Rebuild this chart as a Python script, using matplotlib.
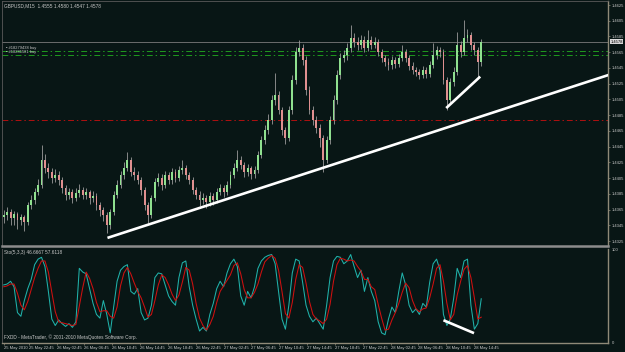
import numpy as np
import matplotlib
matplotlib.use('Agg')
import matplotlib.pyplot as plt
import matplotlib.transforms as mtransforms

plt.rcParams['font.family'] = ['Liberation Sans', 'DejaVu Sans']

# GBPUSD candles (one bar every ~3.4 px)
first_open = 1.4355
closes = [
    1.4358, 1.4362, 1.4354, 1.4359, 1.4352, 1.4355, 1.4349, 1.4371, 1.4377, 1.4387,
    1.4396, 1.4428, 1.4418, 1.4413, 1.4405, 1.4409, 1.4403, 1.4392, 1.4384, 1.4387,
    1.4380, 1.4386, 1.4390, 1.4384, 1.4387, 1.4380, 1.4382, 1.4371, 1.4364, 1.4358,
    1.4345, 1.4362, 1.4384, 1.4396, 1.4409, 1.4418, 1.4428, 1.4413, 1.4409, 1.4403,
    1.4390, 1.4371, 1.4358, 1.4380, 1.4400, 1.4405, 1.4396, 1.4409, 1.4403, 1.4413,
    1.4405, 1.4415, 1.4418, 1.4409, 1.4403, 1.4390, 1.4384, 1.4377, 1.4380, 1.4375,
    1.4382, 1.4377, 1.4387, 1.4392, 1.4387, 1.4396, 1.4409, 1.4418, 1.4428, 1.4422,
    1.4413, 1.4418, 1.4410, 1.4415, 1.4434, 1.4453, 1.4466, 1.4479, 1.4504, 1.4511,
    1.4492, 1.4466, 1.4456, 1.4492, 1.4530, 1.4565, 1.4570, 1.4555, 1.4517, 1.4492,
    1.4479, 1.4469, 1.4456, 1.4428, 1.4453, 1.4479, 1.4504, 1.4536, 1.4558, 1.4561,
    1.4570, 1.4583, 1.4578, 1.4574, 1.4581, 1.4570, 1.4581, 1.4574, 1.4578, 1.4565,
    1.4558, 1.4553, 1.4549, 1.4555, 1.4550, 1.4558, 1.4565, 1.4558, 1.4548, 1.4542,
    1.4540, 1.4536, 1.4542, 1.4537, 1.4549, 1.4561, 1.4568, 1.4565, 1.4530, 1.4504,
    1.4527, 1.4540, 1.4574, 1.4565, 1.4583, 1.4587, 1.4574, 1.4568, 1.4553, 1.4578,
]
highs = [
    1.4364, 1.4368, 1.4366, 1.4363, 1.4362, 1.4360, 1.4358, 1.4375, 1.4383, 1.4392,
    1.4404, 1.4447, 1.4435, 1.4424, 1.4418, 1.4416, 1.4414, 1.4407, 1.4396, 1.4393,
    1.4391, 1.4392, 1.4397, 1.4394, 1.4393, 1.4390, 1.4388, 1.4386, 1.4375, 1.4368,
    1.4362, 1.4366, 1.4389, 1.4402, 1.4414, 1.4425, 1.4438, 1.4432, 1.4419, 1.4414,
    1.4407, 1.4394, 1.4375, 1.4384, 1.4405, 1.4412, 1.4410, 1.4414, 1.4413, 1.4418,
    1.4417, 1.4420, 1.4428, 1.4422, 1.4413, 1.4406, 1.4394, 1.4388, 1.4386, 1.4384,
    1.4387, 1.4386, 1.4392, 1.4398, 1.4396, 1.4401, 1.4414, 1.4424, 1.4441, 1.4433,
    1.4426, 1.4423, 1.4421, 1.4420, 1.4440, 1.4459, 1.4472, 1.4486, 1.4510, 1.4539,
    1.4516, 1.4496, 1.4470, 1.4497, 1.4536, 1.4572, 1.4581, 1.4575, 1.4560, 1.4522,
    1.4497, 1.4484, 1.4474, 1.4460, 1.4458, 1.4484, 1.4510, 1.4542, 1.4564, 1.4568,
    1.4577, 1.4600, 1.4590, 1.4584, 1.4587, 1.4585, 1.4593, 1.4586, 1.4584, 1.4582,
    1.4569, 1.4562, 1.4558, 1.4560, 1.4559, 1.4563, 1.4574, 1.4569, 1.4562, 1.4552,
    1.4546, 1.4544, 1.4547, 1.4546, 1.4554, 1.4577, 1.4573, 1.4571, 1.4569, 1.4534,
    1.4532, 1.4546, 1.4591, 1.4579, 1.4606, 1.4595, 1.4591, 1.4578, 1.4572, 1.4582,
]
lows = [
    1.4348, 1.4352, 1.4346, 1.4345, 1.4340, 1.4346, 1.4338, 1.4345, 1.4366, 1.4372,
    1.4383, 1.4392, 1.4412, 1.4405, 1.4399, 1.4400, 1.4396, 1.4386, 1.4377, 1.4378,
    1.4373, 1.4376, 1.4381, 1.4378, 1.4379, 1.4372, 1.4375, 1.4365, 1.4357, 1.4350,
    1.4335, 1.4340, 1.4358, 1.4380, 1.4392, 1.4404, 1.4414, 1.4408, 1.4403, 1.4397,
    1.4384, 1.4364, 1.4348, 1.4354, 1.4376, 1.4395, 1.4390, 1.4392, 1.4397, 1.4398,
    1.4400, 1.4401, 1.4410, 1.4404, 1.4397, 1.4385, 1.4378, 1.4370, 1.4372, 1.4367,
    1.4370, 1.4371, 1.4373, 1.4383, 1.4381, 1.4383, 1.4392, 1.4405, 1.4414, 1.4416,
    1.4407, 1.4408, 1.4404, 1.4405, 1.4411, 1.4430, 1.4448, 1.4461, 1.4474, 1.4498,
    1.4486, 1.4460, 1.4448, 1.4452, 1.4487, 1.4525, 1.4560, 1.4549, 1.4510, 1.4486,
    1.4472, 1.4462, 1.4445, 1.4413, 1.4424, 1.4448, 1.4474, 1.4499, 1.4531, 1.4552,
    1.4555, 1.4565, 1.4572, 1.4568, 1.4569, 1.4565, 1.4566, 1.4569, 1.4570, 1.4560,
    1.4552, 1.4547, 1.4543, 1.4544, 1.4545, 1.4546, 1.4554, 1.4553, 1.4543, 1.4537,
    1.4535, 1.4531, 1.4532, 1.4532, 1.4533, 1.4545, 1.4556, 1.4559, 1.4524, 1.4492,
    1.4500, 1.4522, 1.4536, 1.4559, 1.4561, 1.4578, 1.4568, 1.4562, 1.4534, 1.4548,
]

# Stochastic(5,3,3): main (teal) and signal (red)
sto_main = [
    62, 63, 66, 60, 32, 28, 45, 58, 68, 84, 90, 92, 82, 55, 25, 18, 24, 20, 17, 20,
    16, 22, 80, 76, 74, 58, 42, 30, 26, 45, 30, 10, 38, 66, 78, 82, 84, 55, 52, 58,
    32, 24, 26, 40, 70, 75, 74, 62, 50, 44, 40, 70, 86, 88, 60, 40, 25, 12, 16, 12,
    30, 42, 58, 66, 60, 75, 85, 90, 82, 50, 40, 55, 48, 60, 80, 88, 92, 94, 95, 85,
    55, 25, 14, 40, 75, 90, 88, 65, 40, 28, 22, 26, 20, 14, 40, 70, 88, 93, 92, 85,
    88, 95, 82, 70, 78, 55, 70, 55, 45, 22, 10, 8, 25, 38, 32, 55, 75, 62, 40, 32,
    36, 30, 42, 38, 65, 85, 90, 78, 30, 18, 25, 48, 80, 70, 88, 90, 40, 14, 20, 47,
]
sto_signal = [
    60, 61, 63, 63, 53, 40, 35, 44, 57, 70, 80, 88, 88, 76, 54, 33, 22, 21, 20, 19,
    18, 19, 39, 59, 76, 69, 58, 43, 33, 34, 34, 28, 26, 38, 61, 75, 81, 74, 64, 55,
    48, 38, 27, 30, 45, 62, 73, 70, 62, 52, 45, 51, 65, 81, 78, 63, 42, 26, 18, 13,
    19, 28, 43, 55, 61, 67, 73, 83, 86, 74, 57, 48, 48, 54, 63, 76, 87, 91, 94, 91,
    78, 55, 31, 26, 43, 68, 84, 81, 64, 44, 30, 25, 23, 20, 25, 41, 66, 84, 91, 90,
    88, 89, 88, 82, 77, 68, 68, 60, 57, 41, 26, 13, 14, 24, 32, 42, 54, 64, 59, 45,
    36, 33, 36, 37, 48, 63, 80, 84, 66, 42, 24, 30, 51, 66, 79, 83, 70, 48, 25, 27,
]

# hand-drawn trend lines (bar index, value)
trend_main_x = [30.2, 176.0]
trend_main_y = [1.4329, 1.4536]
trend_short_x = [128.8, 138.7]
trend_short_y = [1.4494, 1.4534]
trend_sto_x = [128.0, 136.9]
trend_sto_y = [23.7, 9.7]

bid_price = 1.4578
buy_orders = [1.4567, 1.4562]
buy_labels = ['#18279438 buy', '#18281581 buy']
stop_price = 1.4479

price_ticks = [1.4625, 1.4605, 1.4585, 1.4565, 1.4545, 1.4525, 1.4505, 1.4485,
               1.4465, 1.4445, 1.4425, 1.4405, 1.4385, 1.4365, 1.4345, 1.4325]
time_labels = ['25 May 2010', '25 May 22:45', '26 May 02:45', '26 May 06:45',
               '26 May 10:45', '26 May 14:45', '26 May 18:45', '26 May 22:45',
               '27 May 02:45', '27 May 06:45', '27 May 10:45', '27 May 14:45',
               '27 May 18:45', '27 May 22:45', '28 May 02:45', '28 May 06:45',
               '28 May 10:45', '28 May 14:45']

BG = '#081615'
FG = '#c8c8c8'
AXC = '#8f8a78'
FS = 3.0

closes = np.array(closes)
opens = np.r_[first_open, closes[:-1]]
highs = np.array(highs)
lows = np.array(lows)
idx = np.arange(len(closes))

W, H = 625, 352
fig = plt.figure(figsize=(W / 100, H / 100), dpi=100, facecolor=BG)
ax = fig.add_axes([2 / W, 1 - 246 / H, 606 / W, 245 / H], facecolor=BG)
ax2 = fig.add_axes([2 / W, 1 - 343 / H, 606 / W, 94 / H], facecolor=BG)

# candles
up = closes >= opens
ax.vlines(idx, lows, highs, color='#9a9a9a', lw=0.6, zorder=2)
body = np.maximum(np.abs(closes - opens), 0.00006)
bottom = np.minimum(opens, closes)
ax.bar(idx[up], body[up], bottom=bottom[up], width=0.55, color='#8fe08f', lw=0, zorder=3)
ax.bar(idx[~up], body[~up], bottom=bottom[~up], width=0.55, color='#e09090', lw=0, zorder=3)

# levels
ax.axhline(bid_price, color='#7a7a7a', lw=0.6, zorder=1)
for p in buy_orders:
    ax.axhline(p, color='#1f9a1f', lw=0.7, ls=(0, (6, 3, 1.5, 3)), zorder=1)
ax.axhline(stop_price, color='#b01010', lw=0.7, ls=(0, (6, 3, 1.5, 3)), zorder=1)
for p, lab in zip(buy_orders, buy_labels):
    ax.text(0.6, p + 0.00003, '\u25aa ' + lab, color=FG, fontsize=2.9, va='bottom', ha='left')

# trend lines
ax.plot(trend_main_x, trend_main_y, color='white', lw=1.9, solid_capstyle='butt', zorder=4)
ax.plot(trend_short_x, trend_short_y, color='white', lw=1.9, solid_capstyle='butt', zorder=4)

ax.set_xlim(-0.5, 175.9)
ax.set_ylim(1.43187, 1.46301)
ax.yaxis.tick_right()
ax.set_yticks(price_ticks)
ax.set_yticklabels([f'{p:.4f}' for p in price_ticks])
ax.tick_params(axis='y', colors=AXC, labelsize=FS, length=1.5, width=0.5, pad=1.0, direction='out')
for t in ax.get_yticklabels():
    t.set_color(FG)
ax.set_xticks([])
for s in ['top', 'left']:
    ax.spines[s].set_color('#5a5a5a')
    ax.spines[s].set_linewidth(0.6)
ax.spines['right'].set_color(AXC)
ax.spines['right'].set_linewidth(1.0)
ax.spines['bottom'].set_color('#8c8c8c')
ax.spines['bottom'].set_linewidth(1.8)

# current price box
trans = mtransforms.blended_transform_factory(ax.transAxes, ax.transData)
ax.text(1.004, bid_price, f'{bid_price:.4f}', transform=trans, fontsize=FS, color='black',
        va='center', ha='left',
        bbox=dict(boxstyle='square,pad=0.12', fc='#d8d8d8', ec='none'))

ax.text(0.003, 0.99, 'GBPUSD,M15  1.4555 1.4580 1.4547 1.4578', transform=ax.transAxes,
        color=FG, fontsize=3.4, va='top', ha='left')

# stochastic
ax2.plot(idx, sto_main, color='#20b2aa', lw=0.75, zorder=2)
ax2.plot(idx, sto_signal, color='#d01010', lw=0.75, zorder=3)
ax2.plot(trend_sto_x, trend_sto_y, color='white', lw=1.9, solid_capstyle='butt', zorder=4)
ax2.set_xlim(-0.5, 175.9)
ax2.set_ylim(-1, 101)
ax2.yaxis.tick_right()
ax2.set_yticks([0, 100])
ax2.set_yticklabels(['0', '100'])
ax2.tick_params(axis='y', colors=FG, labelsize=FS, length=0, pad=2.5)

tick_pos = np.r_[0, 7.3 + 8.1 * np.arange(len(time_labels) - 1)]
ax2.set_xticks(tick_pos)
ax2.set_xticklabels(time_labels, ha='left')
ax2.tick_params(axis='x', colors=AXC, labelsize=FS, length=1.5, width=0.5, pad=1.0, direction='out')
for t in ax2.get_xticklabels():
    t.set_color(FG)
ax2.spines['top'].set_visible(False)
ax2.spines['left'].set_color('#5a5a5a')
ax2.spines['left'].set_linewidth(0.6)
ax2.spines['right'].set_color(AXC)
ax2.spines['bottom'].set_color(AXC)
ax2.spines['right'].set_linewidth(1.0)
ax2.spines['bottom'].set_linewidth(1.0)

ax2.text(0.003, 0.99, 'Sto(5,3,3) 46.6667 57.6118', transform=ax2.transAxes,
         color=FG, fontsize=3.4, va='top', ha='left')
ax2.text(0.003, 0.03, 'FXDD - MetaTrader, \u00a9 2001-2010 MetaQuotes Software Corp.',
         transform=ax2.transAxes, color=FG, fontsize=3.4, va='bottom', ha='left')

fig.savefig('out.png', dpi=100, facecolor=BG)
plt.close(fig)
print('out.png written')
